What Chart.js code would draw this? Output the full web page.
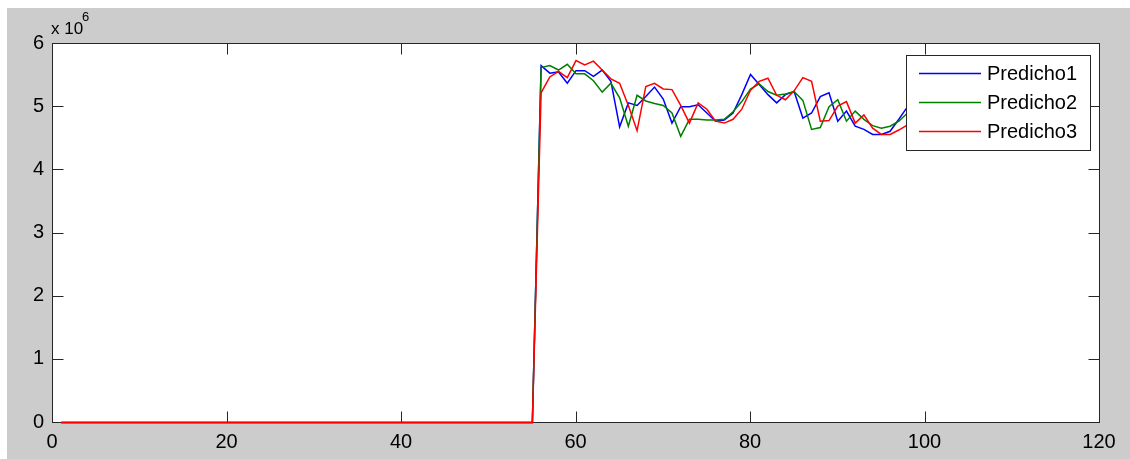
<!DOCTYPE html>
<html>
<head>
<meta charset="utf-8">
<script src="https://cdn.jsdelivr.net/npm/chart.js@4"></script>
<style>
  html, body { margin: 0; padding: 0; background: #fff; }
  canvas { display: block; }
</style>
</head>
<body>
<canvas id="lineChart" width="1130" height="459"></canvas>
<script>
// values in units of 10^6, one per sample step (1..100)
const predicho1 = [
  0, 0, 0, 0, 0, 0, 0, 0, 0, 0, 0, 0, 0, 0, 0, 0, 0, 0, 0, 0,
  0, 0, 0, 0, 0, 0, 0, 0, 0, 0, 0, 0, 0, 0, 0, 0, 0, 0, 0, 0,
  0, 0, 0, 0, 0, 0, 0, 0, 0, 0, 0, 0, 0, 0, 0,
  5.65, 5.53, 5.55, 5.37, 5.57, 5.57, 5.48, 5.58, 5.40, 4.68,
  5.06, 5.02, 5.16, 5.31, 5.12, 4.74, 5.00, 5.00, 5.03, 4.90,
  4.77, 4.79, 4.90, 5.19, 5.51, 5.35, 5.19, 5.06, 5.19, 5.24,
  4.82, 4.90, 5.16, 5.22, 4.77, 4.93, 4.69, 4.64, 4.56, 4.56,
  4.61, 4.80, 5.00, 5.10, 5.15
];
const predicho2 = [
  0, 0, 0, 0, 0, 0, 0, 0, 0, 0, 0, 0, 0, 0, 0, 0, 0, 0, 0, 0,
  0, 0, 0, 0, 0, 0, 0, 0, 0, 0, 0, 0, 0, 0, 0, 0, 0, 0, 0, 0,
  0, 0, 0, 0, 0, 0, 0, 0, 0, 0, 0, 0, 0, 0, 0,
  5.62, 5.65, 5.58, 5.67, 5.52, 5.52, 5.41, 5.23, 5.37, 5.14,
  4.69, 5.18, 5.09, 5.05, 5.02, 4.90, 4.53, 4.80, 4.80, 4.79,
  4.79, 4.80, 4.92, 5.08, 5.28, 5.36, 5.24, 5.18, 5.20, 5.24,
  5.10, 4.64, 4.67, 5.00, 5.11, 4.77, 4.93, 4.80, 4.70, 4.66,
  4.69, 4.77, 4.90, 5.02, 5.10
];
const predicho3 = [
  0, 0, 0, 0, 0, 0, 0, 0, 0, 0, 0, 0, 0, 0, 0, 0, 0, 0, 0, 0,
  0, 0, 0, 0, 0, 0, 0, 0, 0, 0, 0, 0, 0, 0, 0, 0, 0, 0, 0, 0,
  0, 0, 0, 0, 0, 0, 0, 0, 0, 0, 0, 0, 0, 0, 0,
  5.22, 5.47, 5.56, 5.46, 5.73, 5.66, 5.72, 5.58, 5.44, 5.37,
  5.02, 4.62, 5.32, 5.37, 5.28, 5.27, 5.02, 4.74, 5.06, 4.96,
  4.77, 4.74, 4.80, 4.96, 5.26, 5.40, 5.45, 5.18, 5.11, 5.25,
  5.46, 5.40, 4.77, 4.78, 5.01, 5.08, 4.74, 4.87, 4.66, 4.56,
  4.56, 4.63, 4.71, 4.80, 4.88
];
const seriesNames = ['Predicho1', 'Predicho2', 'Predicho3'];
const seriesColors = ['#0000ff', '#008000', '#ff0000'];
const xTicks = [0, 20, 40, 60, 80, 100, 120];
const yTicks = [0, 1, 2, 3, 4, 5, 6];

const FONT = "'Liberation Sans', Arial, sans-serif";
const AXIS = '#262626';
const LINE_W = 1.5;

function toPoints(arr) {
  return arr.map((v, i) => ({ x: i + 1, y: v }));
}

const figureFrame = {
  id: 'figureFrame',
  beforeDraw(chart) {
    const { ctx, chartArea: a } = chart;
    ctx.save();
    ctx.fillStyle = '#ffffff';
    ctx.fillRect(0, 0, chart.width, chart.height);
    ctx.fillStyle = '#cccccc';
    ctx.fillRect(7, 8, chart.width - 7, chart.height - 8);
    ctx.fillStyle = '#ffffff';
    ctx.fillRect(a.left, a.top, a.right - a.left, a.bottom - a.top);
    ctx.restore();
  },
  beforeDatasetsDraw(chart) {
    const { ctx, chartArea: a, scales } = chart;
    const L = Math.round(a.left) + 0.5, R = Math.round(a.right) + 0.5;
    const T = Math.round(a.top) + 0.5, B = Math.round(a.bottom) + 0.5;
    const tick = 11;
    ctx.save();
    ctx.strokeStyle = AXIS;
    ctx.lineWidth = 1;
    ctx.strokeRect(L, T, R - L, B - T);
    ctx.beginPath();
    xTicks.forEach(v => {
      const px = Math.round(scales.x.getPixelForValue(v)) + 0.5;
      ctx.moveTo(px, B); ctx.lineTo(px, B - tick);
      ctx.moveTo(px, T); ctx.lineTo(px, T + tick);
    });
    yTicks.forEach(v => {
      const py = Math.round(scales.y.getPixelForValue(v)) + 0.5;
      ctx.moveTo(L, py); ctx.lineTo(L + tick, py);
      ctx.moveTo(R, py); ctx.lineTo(R - tick, py);
    });
    ctx.stroke();
    ctx.restore();
    // half-pixel shift so the series lines sit on whole pixel rows
    ctx.translate(0.5, 0.5);
  },
  afterDatasetsDraw(chart) {
    const { ctx } = chart;
    ctx.translate(-0.5, -0.5);
    ctx.save();
    // exponent label above the y axis
    ctx.fillStyle = '#000';
    ctx.textBaseline = 'alphabetic';
    ctx.font = '17px ' + FONT;
    ctx.fillText('x 10', 51, 34);
    ctx.font = '13px ' + FONT;
    ctx.fillText('6', 82, 21);

    // legend box
    const bx = 906.5, by = 55.5, bw = 184, bh = 95;
    ctx.fillStyle = '#ffffff';
    ctx.fillRect(bx, by, bw, bh);
    ctx.strokeStyle = AXIS;
    ctx.lineWidth = 1;
    ctx.strokeRect(bx, by, bw, bh);
    const rows = [73.5, 102.5, 131.5];
    seriesNames.forEach((name, i) => {
      const y = rows[i];
      ctx.strokeStyle = seriesColors[i];
      ctx.lineWidth = LINE_W;
      ctx.beginPath();
      ctx.moveTo(919, y);
      ctx.lineTo(981, y);
      ctx.stroke();
      ctx.fillStyle = '#000000';
      ctx.font = '20px ' + FONT;
      ctx.textBaseline = 'middle';
      ctx.fillText(name, 987, y + 1);
    });
    ctx.restore();
  }
};

const series = [predicho1, predicho2, predicho3];

new Chart(document.getElementById('lineChart'), {
  type: 'line',
  data: {
    datasets: series.map((arr, i) => ({
      label: seriesNames[i],
      data: toPoints(arr),
      borderColor: seriesColors[i],
      borderWidth: LINE_W,
      pointRadius: 0,
      tension: 0,
      fill: false,
      clip: 2,
      order: series.length - 1 - i
    }))
  },
  options: {
    responsive: false,
    devicePixelRatio: 1,
    animation: false,
    layout: { padding: { top: 43, right: 31, left: 0, bottom: 0 } },
    plugins: {
      legend: { display: false },
      tooltip: { enabled: false }
    },
    scales: {
      x: {
        type: 'linear',
        min: 0,
        max: 120,
        afterFit(scale) { scale.height = 37; },
        afterBuildTicks(scale) { scale.ticks = xTicks.map(v => ({ value: v })); },
        grid: { display: false, drawTicks: false },
        border: { display: false },
        ticks: {
          padding: 8,
          maxRotation: 0,
          color: '#000',
          font: { family: FONT, size: 20 }
        }
      },
      y: {
        min: 0,
        max: 6,
        afterFit(scale) { scale.width = 52; },
        afterBuildTicks(scale) { scale.ticks = yTicks.map(v => ({ value: v })); },
        grid: { display: false, drawTicks: false },
        border: { display: false },
        ticks: {
          padding: 8,
          color: '#000',
          font: { family: FONT, size: 20 }
        }
      }
    }
  },
  plugins: [figureFrame]
});
</script>
</body>
</html>
